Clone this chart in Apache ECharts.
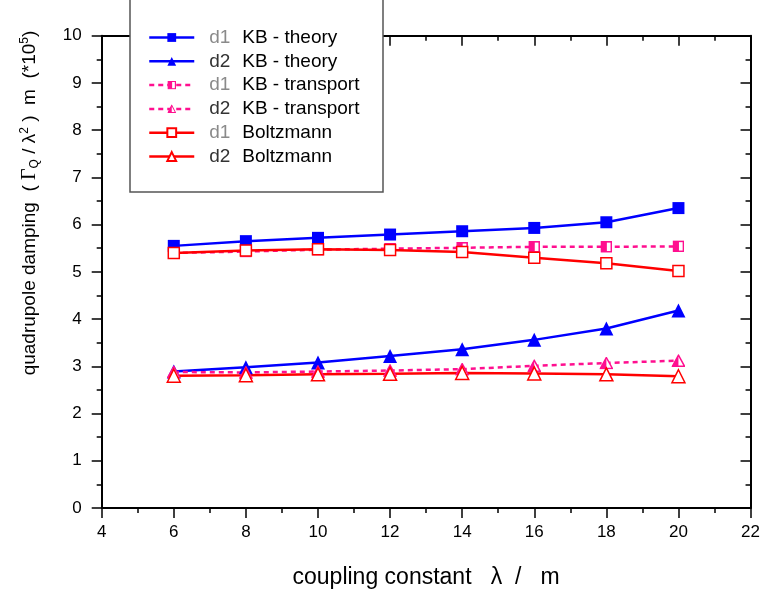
<!DOCTYPE html>
<html><head><meta charset="utf-8">
<script src="https://cdn.jsdelivr.net/npm/echarts@6/dist/echarts.min.js"></script>
<style>html,body{margin:0;padding:0;background:#fff}#c{width:763px;height:594px}</style>
</head><body><div id="c"></div>
<script>
var xs = [6, 8, 10, 12, 14, 16, 18, 20];
var d1Theory    = [5.55, 5.65, 5.72, 5.79, 5.86, 5.93, 6.05, 6.35];
var d2Theory    = [2.89, 2.98, 3.08, 3.22, 3.36, 3.56, 3.80, 4.18];
var d1Transport = [5.40, 5.43, 5.47, 5.49, 5.51, 5.53, 5.53, 5.54];
var d2Transport = [2.88, 2.87, 2.89, 2.91, 2.94, 3.01, 3.07, 3.12];
var d1Boltz     = [5.40, 5.45, 5.48, 5.46, 5.42, 5.30, 5.18, 5.02];
var d2Boltz     = [2.80, 2.81, 2.83, 2.84, 2.86, 2.85, 2.83, 2.79];
var seriesNames = ['d1 KB - theory', 'd2 KB - theory', 'd1 KB - transport', 'd2 KB - transport', 'd1 Boltzmann', 'd2 Boltzmann'];

var BLUE = '#0000FF', PINK = '#FF0F8F', RED = '#FF0000';
var FONT = 'Liberation Sans, Arial, sans-serif';

function pairs(v) { return xs.map(function (x, i) { return [x, v[i]]; }); }
function svgUri(s) { return 'image://data:image/svg+xml;charset=utf-8,' + encodeURIComponent(s); }
var halfSquare = svgUri("<svg xmlns='http://www.w3.org/2000/svg' width='12' height='12'><rect x='1' y='1' width='10' height='10' fill='white' stroke='" + PINK + "' stroke-width='1.6'/><rect x='1' y='1' width='5.5' height='10' fill='" + PINK + "'/></svg>");
var halfTri = svgUri("<svg xmlns='http://www.w3.org/2000/svg' width='14' height='13'><polygon points='7,1 13,12 1,12' fill='white' stroke='" + PINK + "' stroke-width='1.5' stroke-linejoin='miter'/><polygon points='7,1 7,12 1,12' fill='" + PINK + "'/></svg>");

function mk(name, data, color, dash, symbol, size, fill) {
  return {
    name: name, type: 'line', data: pairs(data),
    symbol: symbol, symbolSize: size,
    lineStyle: { color: color, width: 2.5, type: dash },
    itemStyle: { color: fill || color, borderColor: color, borderWidth: fill ? 1.5 : 0 },
    emphasis: { disabled: true }, animation: false
  };
}

var chart = echarts.init(document.getElementById('c'), null, { renderer: 'canvas' });
var axisCommon = {
  axisLine: { show: true, onZero: false, lineStyle: { color: '#000', width: 2 } },
  splitLine: { show: false }
};
chart.setOption({
  animation: false,
  grid: { left: 101.7, right: 11.3, top: 35.7, bottom: 81.7, containLabel: false },
  xAxis: [
    Object.assign({}, axisCommon, {
      type: 'value', min: 4, max: 22, interval: 2, position: 'bottom',
      axisTick: { show: true, inside: false, length: 10, lineStyle: { color: '#000', width: 1.5 } },
      minorTick: { show: true, splitNumber: 2, length: 5, lineStyle: { color: '#000', width: 1.5 } },
      axisLabel: { color: '#000', fontSize: 17, fontFamily: FONT, margin: 16 },
      name: 'coupling constant   λ  /   m', nameLocation: 'middle', nameGap: 58,
      nameTextStyle: { color: '#000', fontSize: 23, fontFamily: FONT }
    }),
    Object.assign({}, axisCommon, {
      type: 'value', min: 4, max: 22, interval: 2, position: 'top',
      axisTick: { show: true, inside: true, length: 10, lineStyle: { color: '#000', width: 1.5 } },
      minorTick: { show: true, splitNumber: 2, length: 5, lineStyle: { color: '#000', width: 1.5 } },
      axisLabel: { show: false }
    })
  ],
  yAxis: [
    Object.assign({}, axisCommon, {
      type: 'value', min: 0, max: 10, interval: 1, position: 'left',
      axisTick: { show: true, inside: false, length: 10, lineStyle: { color: '#000', width: 1.5 } },
      minorTick: { show: true, splitNumber: 2, length: 5, lineStyle: { color: '#000', width: 1.5 } },
      axisLabel: { color: '#000', fontSize: 17, fontFamily: FONT, margin: 20 }
    }),
    Object.assign({}, axisCommon, {
      type: 'value', min: 0, max: 10, interval: 1, position: 'right',
      axisTick: { show: true, inside: true, length: 10, lineStyle: { color: '#000', width: 1.5 } },
      minorTick: { show: true, splitNumber: 2, length: 5, lineStyle: { color: '#000', width: 1.5 } },
      axisLabel: { show: false }
    })
  ],
  legend: {
    show: true, orient: 'vertical', left: 148, top: 28, z: 10,
    itemWidth: 45, itemHeight: 11, itemGap: 4.8, padding: 0,
    lineStyle: { width: 2.5 },
    data: seriesNames,
    formatter: function (n) {
      var p = n.split(' ');
      var tag = p.shift();
      return '{' + (tag === 'd1' ? 'g' : 'k') + '|' + tag + '}{t|' + p.join(' ') + '}';
    },
    textStyle: {
      fontSize: 19, fontFamily: FONT, color: '#000', lineHeight: 19,
      rich: {
        g: { color: '#8a8a8a', fontSize: 19, fontFamily: FONT, lineHeight: 19, padding: [0, 0, 0, 10], width: 33 },
        k: { color: '#333', fontSize: 19, fontFamily: FONT, lineHeight: 19, padding: [0, 0, 0, 10], width: 33 },
        t: { color: '#000', fontSize: 19, fontFamily: FONT, lineHeight: 19 }
      }
    }
  },
  graphic: [
    { type: 'rect', z: 5, shape: { x: 130, y: -5, width: 253, height: 197 },
      style: { fill: '#fff', stroke: '#555', lineWidth: 1.5 } },
    { type: 'text', z: 5, x: 30, y: 203, rotation: Math.PI / 2,
      style: {
        text: 'quadrupole damping  ( {sym|Γ}{sub|Q} / λ{sup|2} )  m  (*10{sup|5})',
        font: '19px ' + FONT, fill: '#000', align: 'center', verticalAlign: 'middle',
        rich: {
          sym: { fontSize: 20, fontFamily: 'Liberation Serif, serif', fill: '#000' },
          sub: { fontSize: 12, fontFamily: FONT, verticalAlign: 'bottom', padding: [8, 0, 0, 0], fill: '#000' },
          sup: { fontSize: 12, fontFamily: FONT, verticalAlign: 'top', padding: [0, 0, 10, 0], fill: '#000' }
        }
      } }
  ],
  series: [
    mk(seriesNames[0], d1Theory, BLUE, 'solid', 'rect', 12),
    mk(seriesNames[1], d2Theory, BLUE, 'solid', 'triangle', 14),
    mk(seriesNames[2], d1Transport, PINK, [5, 4], halfSquare, [12, 12]),
    mk(seriesNames[3], d2Transport, PINK, [5, 4], halfTri, [14, 13]),
    mk(seriesNames[4], d1Boltz, RED, 'solid', 'rect', 11, '#fff'),
    mk(seriesNames[5], d2Boltz, RED, 'solid', 'triangle', 13, '#fff')
  ]
});
</script></body></html>
